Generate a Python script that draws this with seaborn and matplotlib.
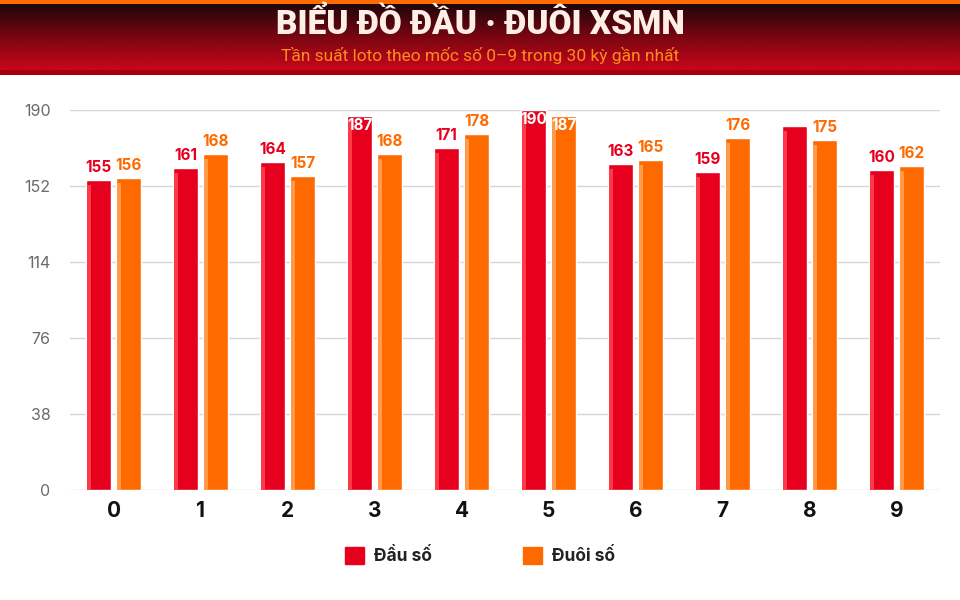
import numpy as np
import pandas as pd
import seaborn as sns
import matplotlib.pyplot as plt
from matplotlib.patches import Rectangle, Patch
from matplotlib.colors import LinearSegmentedColormap, to_rgb

# chart data
digits = ['0', '1', '2', '3', '4', '5', '6', '7', '8', '9']
dau_so = [155, 161, 164, 187, 171, 190, 163, 159, 182, 160]
duoi_so = [156, 168, 157, 168, 178, 187, 165, 176, 175, 162]
series_names = ['Đầu số', 'Đuôi số']
y_ticks = [0, 38, 76, 114, 152, 190]

RED = '#e6001e'
ORANGE = '#ff6a00'
palette = {series_names[0]: RED, series_names[1]: ORANGE}
light = {RED: '#ff3a48', ORANGE: '#ff9a4a'}

df = pd.DataFrame({
    'digit': digits * 2,
    'value': dau_so + duoi_so,
    'series': [series_names[0]] * len(digits) + [series_names[1]] * len(digits),
})

sns.set_theme(style='white')
plt.rcParams['font.family'] = ['Inter', 'DejaVu Sans']

W, H = 960, 600
fig = plt.figure(figsize=(W / 100, H / 100), dpi=100)

# header band
hdr = fig.add_axes([0, 1 - 75 / H, 1, 75 / H])
cmap = LinearSegmentedColormap.from_list('hdr', ['#150508', '#7a0612', '#d6061c'])
grad = np.linspace(0, 1, 256).reshape(-1, 1)
hdr.imshow(grad, aspect='auto', cmap=cmap, extent=[0, 1, 0, 1])
hdr.add_patch(Rectangle((0, 1 - 4 / 75), 1, 4 / 75, color='#ff6a00', lw=0))
hdr.add_patch(Rectangle((0, 0), 1, 5 / 75, color='#a8000f', lw=0))
hdr.set_xlim(0, 1)
hdr.set_ylim(0, 1)
hdr.axis('off')
fig.text(0.5, 1 - 25 / H, 'BIỂU ĐỒ ĐẦU · ĐUÔI XSMN', ha='center', va='center',
         fontsize=24, fontweight='heavy', color='#fdeee6', family=['Roboto', 'DejaVu Sans'])
fig.text(0.5, 1 - 56 / H, 'Tần suất loto theo mốc số 0–9 trong 30 kỳ gần nhất', ha='center',
         va='center', fontsize=12.5, color='#ff8a1e', family=['Roboto', 'DejaVu Sans'])

# main chart
ax = fig.add_axes([70 / W, 1 - 490 / H, 870 / W, 380 / H])
sns.barplot(data=df, x='digit', y='value', hue='series', palette=palette,
            width=0.69, gap=0.16, saturation=1, ax=ax, legend=False, zorder=3)
ax.set_ylim(0, 190)
ax.set_xlim(-0.5, 9.5)
ax.set_yticks(y_ticks)
ax.grid(axis='y', color='#d6d6d6', lw=1, zorder=0)
ax.grid(axis='x', visible=False)
for s in ax.spines.values():
    s.set_visible(False)
ax.set_xlabel('')
ax.set_ylabel('')
ax.tick_params(axis='y', length=0, pad=14, labelsize=11.5, labelcolor='#6a6a6a')
ax.tick_params(axis='x', length=0, pad=8, labelsize=15)
for t in ax.get_xticklabels():
    t.set_fontweight('bold')
    t.set_color('#111111')

# highlight stripes and value labels
for p in ax.patches:
    h = p.get_height()
    if h <= 0:
        continue
    x0, w = p.get_x(), p.get_width()
    col = RED if np.allclose(p.get_facecolor()[:3], to_rgb(RED)) else ORANGE
    ax.add_patch(Rectangle((x0 + w * 0.06, 0), w * 0.14, h - 2.5, color=light[col], lw=0, zorder=3.5))
    cx = x0 + w / 2
    if h >= 185:
        ax.text(cx, h - 0.8, f'{int(h)}', ha='center', va='top', fontsize=11,
                fontweight='bold', color='white', zorder=5)
    elif h >= 180:
        ax.text(cx, h - 2, f'{int(h)}', ha='center', va='bottom', fontsize=11,
                fontweight='bold', color='white', zorder=5)
    else:
        ax.text(cx, h + 2.5, f'{int(h)}', ha='center', va='bottom', fontsize=11,
                fontweight='bold', color=col, zorder=5)

handles = [Patch(color=RED, label=series_names[0]), Patch(color=ORANGE, label=series_names[1])]
leg = fig.legend(handles=handles, loc='center', bbox_to_anchor=(0.5, 1 - 556 / H), ncol=2,
                 frameon=False, handlelength=1.1, handleheight=1.1, columnspacing=5.2,
                 handletextpad=0.6, prop={'weight': 'bold', 'size': 12.5})
for t in leg.get_texts():
    t.set_color('#222222')

fig.savefig('out.png', dpi=100)
